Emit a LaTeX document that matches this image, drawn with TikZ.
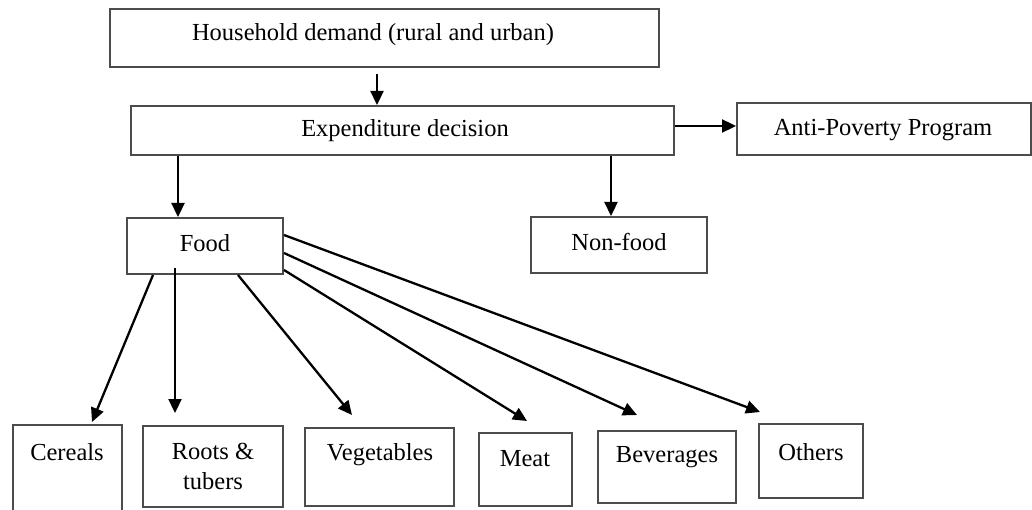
\documentclass[tikz,border=0pt]{standalone}
\usepackage{fontspec}
\setmainfont{Liberation Serif}
\usetikzlibrary{arrows.meta,calc}
\begin{document}
\begin{tikzpicture}[x=1pt,y=-1pt,
  box/.style={draw=black!70,line width=2pt,inner sep=0pt},
  lbl/.style={font=\fontsize{24.5}{30}\selectfont,inner sep=0pt,align=center},
  arr/.style={line width=2.3pt,-{Triangle[length=14pt,width=13pt]}},
  ln/.style={line width=2.3pt}]
\useasboundingbox (0,0) rectangle (1032,510);
% boxes (corner coordinates)
\newcommand{\mkbox}[5]{\node[box,minimum width=#4-#2,minimum height=#5-#3] (#1) at ({(#2+#4)/2},{(#3+#5)/2}) {};}
\mkbox{house}{110}{9}{659}{67}
\mkbox{exp}{131}{106}{674}{155}
\mkbox{anti}{737}{103}{1031}{155}
\mkbox{food}{127}{218}{283}{274}
\mkbox{nonfood}{531}{217}{707}{273}
\mkbox{cereals}{13}{425}{122}{518}
\mkbox{roots}{143}{426}{283}{507}
\mkbox{veg}{305}{428}{454}{506}
\mkbox{meat}{479}{433}{572}{506}
\mkbox{bev}{598}{431}{736}{503}
\mkbox{others}{759}{424}{863}{498}
% texts
\node[lbl] (houseT) at (373,35) {Household demand (rural and urban)};
\node[lbl] (expT) at (405,131) {Expenditure decision};
\node[lbl] (antiT) at (883,130) {Anti-Poverty Program};
\node[lbl] (foodT) at (205,243) {Food};
\node[lbl] (nonfoodT) at (619,242) {Non-food};
\node[lbl] (cerealsT) at (67,452) {Cereals};
\node[lbl] (rootsT) at (213,466) {Roots \&\\tubers};
\node[lbl] (vegT) at (380,455) {Vegetables};
\node[lbl] (meatT) at (525,459) {Meat};
\node[lbl] (bevT) at (667,457) {Beverages};
\node[lbl] (othersT) at (811,452) {Others};
% connectors
\draw[arr] ([xshift=-7.5pt,yshift=-6pt]house.south) -- (exp.north -| {(377,0)});
\draw[arr] (exp.south -| {(178,0)}) -- (food.north -| {(178,0)});
\draw[arr] (exp.south -| {(611,0)}) -- (nonfood.north -| {(611,0)});
\draw[arr] (exp.east |- {(0,126)}) -- (anti.west |- {(0,126)});
\draw[arr] (food.south -| {(153,0)}) -- ([xshift=24.5pt,yshift=2pt]cereals.north);
\draw[arr] ([xshift=-30pt,yshift=7pt]food.south) -- ([xshift=-38pt,yshift=12pt]roots.north);
\draw[arr] (food.south -| {(238,0)}) -- ([xshift=-27.5pt,yshift=12pt]veg.north);
\draw[arr] (food.east |- {(0,270)}) -- ([xshift=1.5pt,yshift=11pt]meat.north);
\draw[arr] (food.east |- {(0,253)}) -- ([xshift=-30pt,yshift=15pt]bev.north);
\draw[arr] (food.east |- {(0,235)}) -- ([xshift=-51pt,yshift=11pt]others.north);
\end{tikzpicture}
\end{document}
